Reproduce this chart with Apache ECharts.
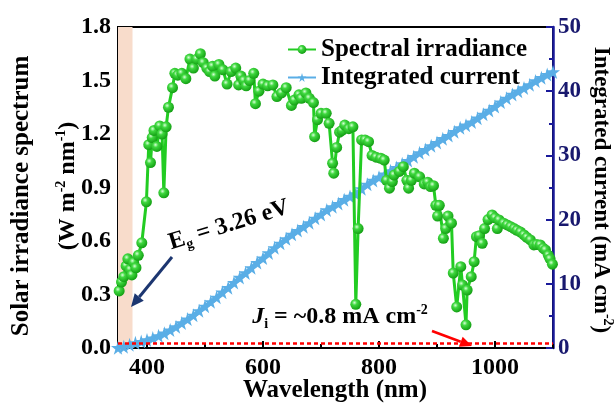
<!DOCTYPE html>
<html>
<head>
<meta charset="utf-8">
<script src="https://cdn.jsdelivr.net/npm/echarts@6/dist/echarts.min.js"></script>
<style>
html,body{margin:0;padding:0;background:#fff;}
#chart{width:614px;height:406px;}
</style>
</head>
<body>
<div id="chart"></div>
<script>
// Spectral irradiance (W m-2 nm-1) versus wavelength (nm)
const irrWavelength = [352,356,360,364,367,371,374,377,381,385,391,399,403,406,409,412,417,422,426,429,433,437,444,448,453,460,467,474,480,486,492,497,503,508,513,517,524,531,538,545,553,558,562,567,571,577,584,587,593,600,608,617,624,632,640,649,654,662,666,674,680,687,689,694,700,709,714,720,722,727,732,736,741,748,755,760,764,770,776,782,788,795,803,809,813,818,823,826,835,842,848,851,856,861,870,878,884,889,894,898,901,904,911,915,919,925,928,934,941,944,950,952,959,964,968,973,978,982,988,995,1000,1004,1007,1015,1021,1027,1033,1038,1044,1050,1055,1061,1067,1072,1078,1083,1087,1092,1095,1099];
const irradiance = [0.32,0.37,0.40,0.46,0.50,0.44,0.41,0.48,0.45,0.52,0.59,0.82,1.14,1.04,1.18,1.22,1.13,1.245,1.20,0.87,1.24,1.35,1.46,1.54,1.53,1.54,1.51,1.62,1.57,1.62,1.65,1.60,1.57,1.55,1.58,1.525,1.59,1.56,1.48,1.55,1.57,1.475,1.525,1.50,1.47,1.50,1.54,1.37,1.44,1.48,1.47,1.475,1.41,1.43,1.46,1.36,1.39,1.42,1.40,1.43,1.40,1.376,1.185,1.28,1.316,1.316,1.26,1.036,0.98,1.125,1.21,1.22,1.25,1.23,1.24,0.245,0.67,1.167,1.167,1.157,1.08,1.07,1.064,1.054,0.94,0.896,0.933,0.97,0.99,1.017,0.94,0.896,0.94,0.98,0.96,0.92,0.93,0.905,0.91,0.80,0.74,0.80,0.615,0.67,0.74,0.70,0.42,0.23,0.456,0.353,0.13,0.325,0.40,0.484,0.624,0.63,0.587,0.67,0.72,0.746,0.73,0.67,0.718,0.70,0.69,0.68,0.67,0.66,0.65,0.634,0.62,0.606,0.578,0.58,0.578,0.56,0.55,0.52,0.50,0.47];

// Integrated current (mA cm-2), every 10 nm from 350 to 1100 nm
const curWavelength = [350,360,370,380,390,400,410,420,430,440,450,460,470,480,490,500,510,520,530,540,550,560,570,580,590,600,610,620,630,640,650,660,670,680,690,700,710,720,730,740,750,760,770,780,790,800,810,820,830,840,850,860,870,880,890,900,910,920,930,940,950,960,970,980,990,1000,1010,1020,1030,1040,1050,1060,1070,1080,1090,1100];
const integratedCurrent = [0.05,0.2,0.5,0.8,1.0,1.25,1.55,1.9,2.3,2.8,3.3,3.9,4.5,5.1,5.8,6.5,7.2,7.9,8.7,9.4,10.2,11.0,11.7,12.5,13.3,14.0,14.8,15.6,16.3,17.0,17.7,18.3,18.9,19.5,20.2,20.8,21.5,22.0,22.5,23.1,23.6,24.0,24.8,25.5,26.1,26.6,27.1,27.6,28.1,28.7,29.2,29.8,30.4,30.9,31.5,32.0,32.6,33.1,33.7,34.3,34.7,35.2,35.8,36.4,37.0,37.6,38.3,38.9,39.5,40.0,40.5,41.0,41.6,42.1,42.6,43.0];

// Axis ticks
const xMajorTicks = [400,600,800,1000];
const xMinorTicks = [500,700,900,1100];
const bandEdge = [350,375];      // shaded region below the band-gap wavelength
const jiValue = 0.8;             // integrated current below the band gap (mA cm-2)

const FONT = '"Liberation Serif","Times New Roman",serif';
const STAR = 'path://M50,0 L61,35 L98,35 L68,57 L79,91 L50,70 L21,91 L32,57 L2,35 L39,35 Z';
const AXIS_BLUE = '#1a1a9a';

const chart = echarts.init(document.getElementById('chart'), null, {renderer:'canvas'});

const irrData = irrWavelength.map((w,i)=>[w, irradiance[i]]);
const curData = curWavelength.map((w,i)=>[w, integratedCurrent[i]]);

const greenBall = {
  type:'radial', x:0.38, y:0.35, r:0.65,
  colorStops:[
    {offset:0, color:'#d8ffd8'},
    {offset:0.35, color:'#3fd83f'},
    {offset:1, color:'#14a014'}
  ]
};

function arrow(x1,y1,x2,y2,color,w,head){
  const a = Math.atan2(y2-y1, x2-x1);
  const bx = x2 - head*Math.cos(a), by = y2 - head*Math.sin(a);
  const hw = head*0.45;
  const px = -Math.sin(a), py = Math.cos(a);
  return [
    {type:'line', shape:{x1:x1,y1:y1,x2:bx,y2:by}, style:{stroke:color, lineWidth:w}, z:20},
    {type:'polygon', shape:{points:[[x2,y2],[bx+px*hw,by+py*hw],[bx-px*hw,by-py*hw]]}, style:{fill:color}, z:20}
  ];
}

const supRich = (color, size) => ({
  n:{fontFamily:FONT, fontWeight:'bold', fontSize:size, color:color, lineHeight:size+4},
  sup:{fontFamily:FONT, fontWeight:'bold', fontSize:Math.round(size*0.6), color:color, verticalAlign:'top', lineHeight:size+4},
  sub:{fontFamily:FONT, fontWeight:'bold', fontSize:Math.round(size*0.6), color:color, verticalAlign:'bottom', lineHeight:size+4},
  it:{fontFamily:FONT, fontWeight:'bold', fontStyle:'italic', fontSize:size, color:color, lineHeight:size+4}
});

const option = {
  backgroundColor:'#ffffff',
  animation:false,
  grid:{left:118, right:61, top:27, bottom:58, show:true, borderColor:'#000', borderWidth:2, backgroundColor:'transparent'},
  legend:{
    data:['Spectral irradiance','Integrated current'],
    orient:'vertical', left:282, top:32, itemWidth:28, itemHeight:11, itemGap:3,
    textStyle:{fontFamily:FONT, fontWeight:'bold', fontSize:25, color:'#000'}
  },
  xAxis:[
    {
      type:'value', min:350, max:1100, position:'bottom',
      axisLine:{show:true, lineStyle:{color:'#000', width:2}},
      axisTick:{show:true, inside:true, length:7, lineStyle:{color:'#000', width:2}, customValues:xMajorTicks},
      axisLabel:{show:true, customValues:xMajorTicks, margin:8, color:'#000', fontFamily:FONT, fontWeight:'bold', fontSize:24, formatter:v=>String(v)},
      splitLine:{show:false}
    },
    {
      type:'value', min:350, max:1100, position:'bottom',
      axisLine:{show:false},
      axisTick:{show:true, inside:true, length:4, lineStyle:{color:'#000', width:2}, customValues:xMinorTicks},
      axisLabel:{show:false},
      splitLine:{show:false}
    }
  ],
  yAxis:[
    {
      type:'value', min:0, max:1.8, interval:0.3, position:'left',
      axisLine:{show:true, lineStyle:{color:'#000', width:2}},
      axisTick:{show:true, inside:true, length:7, lineStyle:{color:'#000', width:2}},
      minorTick:{show:true, splitNumber:2, length:4, lineStyle:{color:'#000', width:2}},
      axisLabel:{margin:7, color:'#000', fontFamily:FONT, fontWeight:'bold', fontSize:24, formatter:v=>v.toFixed(1)},
      splitLine:{show:false}
    },
    {
      type:'value', min:0, max:50, interval:10, position:'right',
      axisLine:{show:true, lineStyle:{color:AXIS_BLUE, width:2.5}},
      axisTick:{show:true, inside:true, length:7, lineStyle:{color:AXIS_BLUE, width:2}},
      minorTick:{show:true, splitNumber:2, length:4, lineStyle:{color:AXIS_BLUE, width:2}},
      axisLabel:{margin:5, color:'#18186e', fontFamily:FONT, fontWeight:'bold', fontSize:23},
      splitLine:{show:false}
    }
  ],
  series:[
    {
      name:'Integrated current', type:'line', xAxisIndex:0, yAxisIndex:1,
      data:curData, symbol:STAR, symbolSize:14,
      itemStyle:{color:'#5aaee6'},
      lineStyle:{color:'#5aaee6', width:4},
      z:3,
      markLine:{
        silent:true, symbol:'none', label:{show:false},
        lineStyle:{color:'#ff0000', type:[4,3], width:2.5},
        data:[{yAxis:jiValue}]
      }
    },
    {
      name:'Spectral irradiance', type:'line', xAxisIndex:0, yAxisIndex:0,
      data:irrData, symbol:'circle', symbolSize:11,
      itemStyle:{color:greenBall},
      lineStyle:{color:'#22cc22', width:3},
      z:4,
      markArea:{
        silent:true,
        itemStyle:{color:'#f8dccb'},
        data:[[{xAxis:bandEdge[0]},{xAxis:bandEdge[1]}]]
      }
    }
  ]
};
chart.setOption(option);

// Axis titles and annotations
const graphics = [
  {type:'text', x:22, y:196, rotation:Math.PI/2, z:30,
    style:{text:'Solar irradiance spectrum', fontFamily:FONT, fontWeight:'bold', fontSize:25, fill:'#000', align:'center', verticalAlign:'middle'}},
  {type:'text', x:68, y:186, rotation:Math.PI/2, z:30,
    style:{text:'{n|(W m}{sup|-2}{n| nm}{sup|-1}{n|)}', rich:supRich('#000',24), align:'center', verticalAlign:'middle'}},
  {type:'text', x:601, y:190, rotation:-Math.PI/2, z:30,
    style:{text:'{n|Integrated current (mA cm}{sup|-2}{n|)}', rich:supRich('#1212dd',23), align:'center', verticalAlign:'middle'}},
  {type:'text', x:335, y:391, z:30,
    style:{text:'Wavelength (nm)', fontFamily:FONT, fontWeight:'bold', fontSize:25, fill:'#000', align:'center', verticalAlign:'middle'}},
  {type:'text', x:229, y:225, rotation:17*Math.PI/180, z:30,
    style:{text:'{n|E}{sub|g}{n| = 3.26 eV}', rich:supRich('#1c3670',24), align:'center', verticalAlign:'middle'}},
  {type:'text', x:340, y:317, z:30,
    style:{text:'{it|J}{sub|i}{n| = ~0.8 mA cm}{sup|-2}', rich:supRich('#ff0000',24), align:'center', verticalAlign:'middle'}}
].concat(
  arrow(172,257,131,307,'#1c3670',3,13),
  arrow(432,331,472,346,'#ff0000',2.5,12)
);
chart.setOption({graphic:graphics});
</script>
</body>
</html>
